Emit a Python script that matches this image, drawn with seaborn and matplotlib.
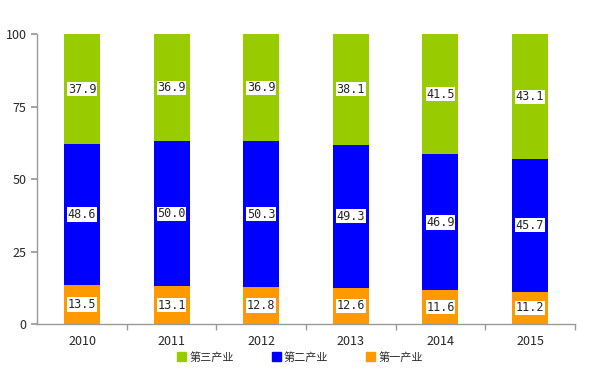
import matplotlib
matplotlib.use("Agg")
import matplotlib.pyplot as plt
from matplotlib.patches import Patch
import numpy as np
import pandas as pd
import seaborn as sns

sns.set_theme(style="white")
plt.rcParams["font.family"] = ["Noto Sans CJK SC", "DejaVu Sans"]

years = ["2010", "2011", "2012", "2013", "2014", "2015"]
primary = [13.5, 13.1, 12.8, 12.6, 11.6, 11.2]     # 第一产业
secondary = [48.6, 50.0, 50.3, 49.3, 46.9, 45.7]   # 第二产业
tertiary = [37.9, 36.9, 36.9, 38.1, 41.5, 43.1]    # 第三产业

GREEN = "#99CC00"
BLUE = "#0000FF"
ORANGE = "#FF9900"


def main():
    df = pd.DataFrame({"year": years, "p": primary, "s": secondary, "t": tertiary})
    df["ps"] = df["p"] + df["s"]
    df["total"] = df["ps"] + df["t"]

    fig = plt.figure(figsize=(6, 3.84), dpi=100)
    ax = fig.add_axes([0.062, 0.156, 0.896, 0.755])

    # overlay stacked bars: totals first, then partial sums
    for col, c in [("total", GREEN), ("ps", BLUE), ("p", ORANGE)]:
        sns.barplot(data=df, x="year", y=col, color=c, width=0.4,
                    saturation=1, linewidth=0, edgecolor="none", ax=ax)

    box = dict(boxstyle="square,pad=0.05", fc="white", ec="none")
    for i, row in df.iterrows():
        for bottom, val in [(0, row["p"]), (row["p"], row["s"]), (row["ps"], row["t"])]:
            ax.text(i, bottom + val / 2, f"{val:.1f}", ha="center", va="center",
                    fontsize=8.5, family="DejaVu Sans Mono", bbox=box)

    ax.set_xlim(-0.5, 5.5)
    ax.set_ylim(0, 100)
    ax.set_yticks([0, 25, 50, 75, 100])
    ax.set_xlabel("")
    ax.set_ylabel("")

    ax.set_xticks(np.arange(6))
    ax.set_xticklabels(years)
    ax.set_xticks(np.arange(6) + 0.5, minor=True)
    ax.tick_params(axis="x", which="major", length=0, labelsize=9, pad=8)
    ax.tick_params(axis="x", which="minor", length=4, color="#999999",
                   direction="out", bottom=True)
    ax.tick_params(axis="y", length=4, color="#999999", direction="out",
                   left=True, labelsize=9)

    for side in ["top", "right"]:
        ax.spines[side].set_visible(False)
    for side in ["left", "bottom"]:
        ax.spines[side].set_color("#999999")
        ax.spines[side].set_linewidth(1)

    handles = [Patch(color=GREEN, label="第三产业"),
               Patch(color=BLUE, label="第二产业"),
               Patch(color=ORANGE, label="第一产业")]
    fig.legend(handles=handles, loc="center", bbox_to_anchor=(0.5, 0.07),
               ncol=3, frameon=False, fontsize=8, handlelength=0.8,
               handleheight=0.8, handletextpad=0.3, columnspacing=3.4)

    fig.savefig("out.png", dpi=100)


if __name__ == "__main__":
    main()
